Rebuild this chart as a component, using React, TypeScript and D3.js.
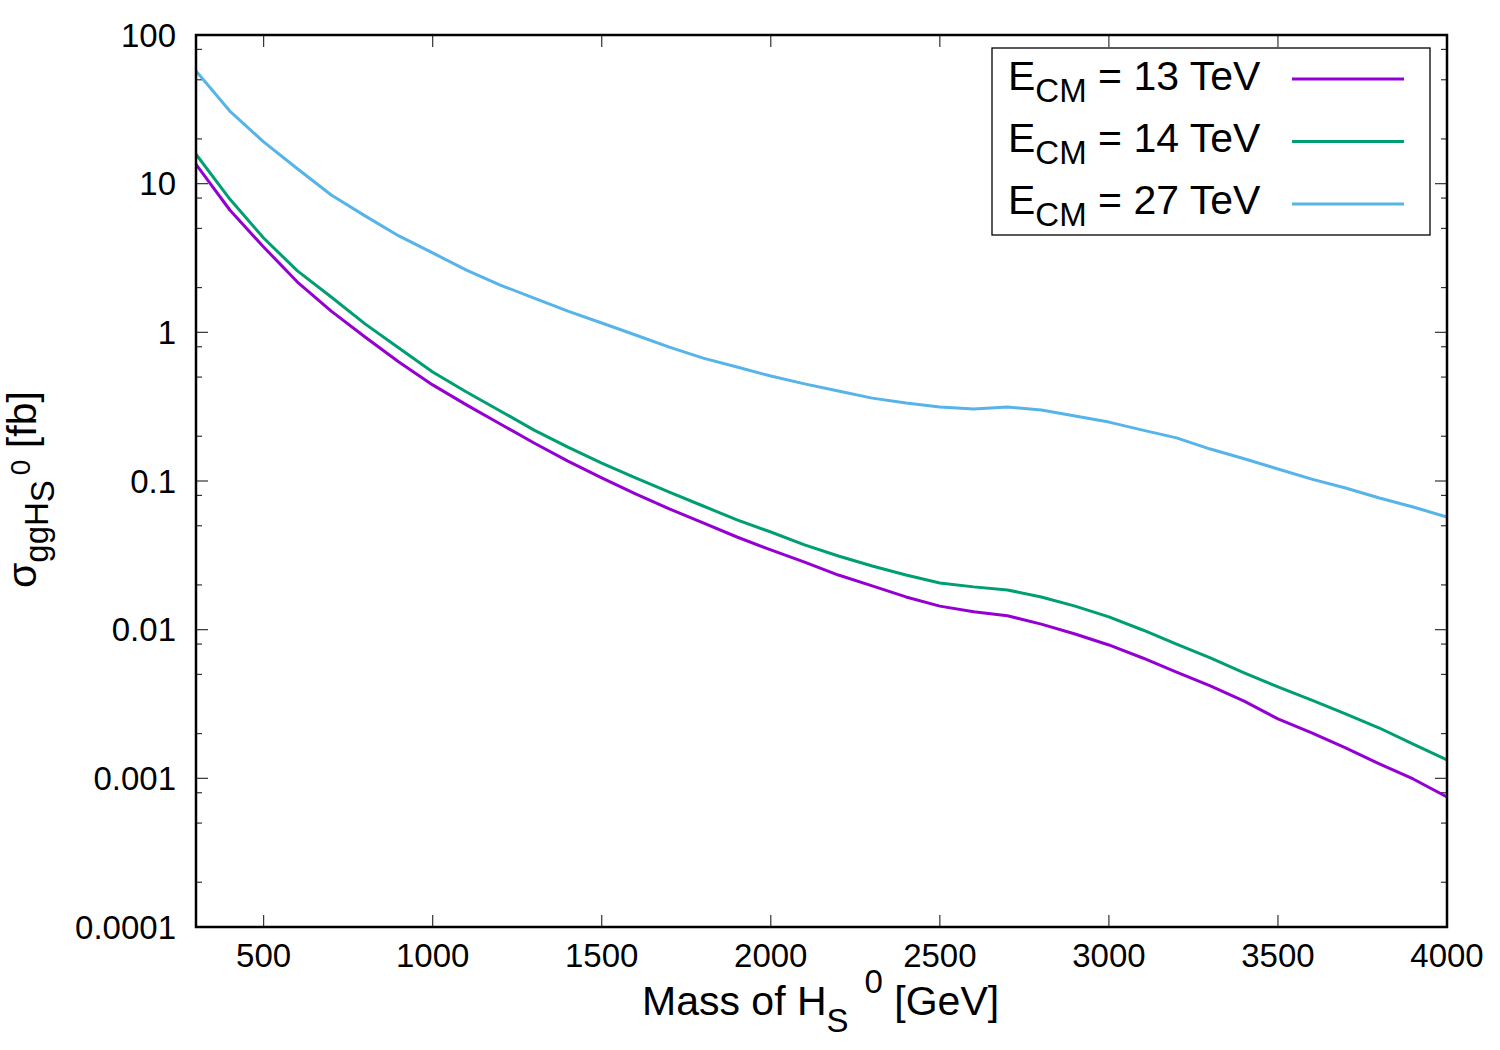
import React from 'react';
import * as d3 from 'd3';

// masses in GeV
const masses = [300, 400, 500, 600, 700, 800, 900, 1000, 1100, 1200, 1300, 1400, 1500, 1600, 1700, 1800, 1900,
  2000, 2100, 2200, 2300, 2400, 2500, 2600, 2700, 2800, 2900, 3000, 3100, 3200, 3300, 3400, 3500, 3600, 3700,
  3800, 3900, 4000];

// cross sections in fb
const xsec13 = [13.5, 6.65, 3.75, 2.18, 1.39, 0.93, 0.632, 0.443, 0.325, 0.242, 0.18, 0.136, 0.105, 0.0818,
  0.0649, 0.0522, 0.042, 0.0344, 0.0285, 0.0233, 0.0197, 0.0166, 0.0144, 0.0132, 0.0124, 0.0109, 0.00935,
  0.00789, 0.00645, 0.00519, 0.00418, 0.00331, 0.00251, 0.00202, 0.0016, 0.00125, 0.00099, 0.00075];
const xsec14 = [15.8, 7.88, 4.31, 2.59, 1.73, 1.14, 0.785, 0.541, 0.397, 0.296, 0.22, 0.169, 0.132, 0.105,
  0.0843, 0.0679, 0.0547, 0.0454, 0.0372, 0.0313, 0.0268, 0.0233, 0.0206, 0.0194, 0.0185, 0.0166, 0.0144,
  0.0122, 0.00995, 0.008, 0.00645, 0.00512, 0.00412, 0.00336, 0.00271, 0.00218, 0.0017, 0.00133];
const xsec27 = [57.3, 30.8, 19.1, 12.6, 8.39, 6.07, 4.45, 3.42, 2.62, 2.08, 1.7, 1.39, 1.156, 0.96, 0.796,
  0.671, 0.584, 0.508, 0.45, 0.403, 0.361, 0.335, 0.315, 0.305, 0.315, 0.3, 0.274, 0.249, 0.22, 0.195, 0.164,
  0.141, 0.1205, 0.103, 0.0897, 0.0769, 0.0669, 0.0573];

const energies = ['13', '14', '27'];
const colors = ['#9400d3', '#009e73', '#56b4e9'];
const seriesList = [xsec13, xsec14, xsec27];

const xTicks = [500, 1000, 1500, 2000, 2500, 3000, 3500, 4000];
const yTicks = [0.0001, 0.001, 0.01, 0.1, 1, 10, 100];
const yTickLabels = ['0.0001', '0.001', '0.01', '0.1', '1', '10', '100'];
const minorMultipliers = [2, 5, 8];

const FONT = '"Liberation Sans", Arial, Helvetica, sans-serif';

export default function App() {
  const left = 196, right = 1447, top = 35, bottom = 927;

  const x = d3.scaleLinear().domain([300, 4000]).range([left, right]);
  const y = d3.scaleLog().domain([0.0001, 100]).range([bottom, top]);

  const line = d3.line<[number, number]>()
    .x(d => x(d[0]))
    .y(d => y(d[1]));

  // minor y ticks at 2,5,8 per decade
  const minorTicks: number[] = [];
  yTicks.slice(0, -1).forEach(t => {
    minorMultipliers.forEach(m => minorTicks.push(t * m));
  });

  const majorLen = 12, minorLen = 6;
  const tickColor = '#333';

  return (
    <svg width={1500} height={1050} style={{ position: 'absolute', left: 0, top: 0, background: '#fff' }}
      fontFamily={FONT}>
      <rect x={0} y={0} width={1500} height={1050} fill="#fff" />

      <defs>
        <clipPath id="plotclip">
          <rect x={left} y={top} width={right - left} height={bottom - top} />
        </clipPath>
      </defs>

      {/* x ticks */}
      {xTicks.map(t => (
        <g key={'xt' + t}>
          <line x1={x(t)} x2={x(t)} y1={bottom} y2={bottom - majorLen} stroke={tickColor} strokeWidth={1.2} />
          <line x1={x(t)} x2={x(t)} y1={top} y2={top + majorLen} stroke={tickColor} strokeWidth={1.2} />
          <text x={x(t)} y={967} fontSize={33} textAnchor="middle" fill="#000">{t}</text>
        </g>
      ))}

      {/* y ticks */}
      {yTicks.map((t, i) => (
        <g key={'yt' + t}>
          <line x1={left} x2={left + majorLen} y1={y(t)} y2={y(t)} stroke={tickColor} strokeWidth={1.2} />
          <line x1={right} x2={right - majorLen} y1={y(t)} y2={y(t)} stroke={tickColor} strokeWidth={1.2} />
          <text x={176} y={y(t) + 11.5} fontSize={33} textAnchor="end" fill="#000">{yTickLabels[i]}</text>
        </g>
      ))}
      {minorTicks.map(t => (
        <g key={'ym' + t}>
          <line x1={left} x2={left + minorLen} y1={y(t)} y2={y(t)} stroke={tickColor} strokeWidth={1.2} />
          <line x1={right} x2={right - minorLen} y1={y(t)} y2={y(t)} stroke={tickColor} strokeWidth={1.2} />
        </g>
      ))}

      {/* curves */}
      <g clipPath="url(#plotclip)">
        {seriesList.map((s, i) => (
          <path key={'c' + i}
            d={line(masses.map((m, j) => [m, s[j]] as [number, number])) || ''}
            fill="none" stroke={colors[i]} strokeWidth={3} strokeLinejoin="round" />
        ))}
      </g>

      {/* frame */}
      <rect x={left} y={top} width={right - left} height={bottom - top} fill="none" stroke="#000" strokeWidth={2.5} />

      {/* legend */}
      <rect x={992} y={48} width={438} height={187} fill="#fff" stroke="#000" strokeWidth={1.3} />
      {energies.map((e, i) => (
        <g key={'lg' + e}>
          <text x={1008} y={90 + i * 62} fontSize={41} fill="#000">
            E<tspan fontSize={33} dy={12}>CM</tspan><tspan dy={-12}> = {e} TeV</tspan>
          </text>
          <line x1={1292} x2={1404} y1={79 + i * 62.5} y2={79 + i * 62.5} stroke={colors[i]} strokeWidth={3} />
        </g>
      ))}

      {/* x title */}
      <text x={642} y={1015} fontSize={41} fill="#000">
        Mass of H<tspan fontSize={33} dy={17}>S</tspan><tspan fontSize={33} dx={16} dy={-39}>0</tspan>
        <tspan dy={22}> [GeV]</tspan>
      </text>

      {/* y title */}
      <text transform="translate(36,588) rotate(-90)" x={0} y={0} fontSize={41} fill="#000">
        σ<tspan fontSize={33} dy={12}>ggH</tspan><tspan fontSize={33} dy={6}>S</tspan>
        <tspan fontSize={28} dx={5} dy={-24}>0</tspan><tspan fontSize={41} dy={6}> [fb]</tspan>
      </text>
    </svg>
  );
}
